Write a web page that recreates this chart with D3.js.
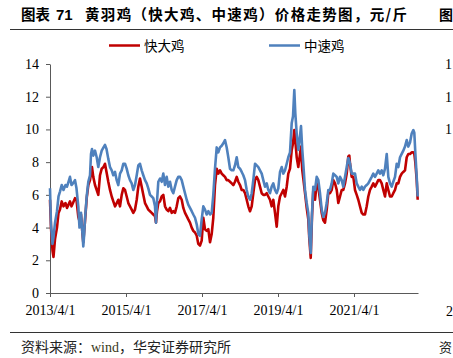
<!DOCTYPE html>
<html><head><meta charset="utf-8">
<script src="https://cdn.jsdelivr.net/npm/d3@7/dist/d3.min.js"></script>
<style>
html,body{margin:0;padding:0;background:#fff;}
svg{display:block;}
</style></head>
<body>
<svg id="chart" width="453" height="358"></svg>
<script>
// Time in decimal years
const dates = [2013.250,2013.276,2013.316,2013.342,2013.382,2013.434,2013.474,2013.513,2013.558,2013.605,2013.658,2013.697,2013.737,2013.776,2013.816,2013.855,2013.908,2013.947,2013.995,2014.026,2014.066,2014.105,2014.126,2014.150,2014.171,2014.216,2014.258,2014.303,2014.329,2014.355,2014.389,2014.434,2014.479,2014.521,2014.566,2014.611,2014.658,2014.697,2014.737,2014.784,2014.829,2014.874,2014.916,2014.961,2015.005,2015.047,2015.092,2015.137,2015.179,2015.224,2015.268,2015.311,2015.355,2015.400,2015.442,2015.487,2015.532,2015.574,2015.618,2015.663,2015.705,2015.750,2015.795,2015.837,2015.882,2015.926,2015.968,2016.013,2016.039,2016.066,2016.100,2016.145,2016.189,2016.232,2016.276,2016.321,2016.363,2016.408,2016.453,2016.495,2016.539,2016.584,2016.626,2016.671,2016.716,2016.758,2016.803,2016.847,2016.889,2016.934,2016.979,2017.021,2017.066,2017.111,2017.153,2017.197,2017.242,2017.284,2017.329,2017.374,2017.416,2017.461,2017.505,2017.547,2017.592,2017.637,2017.679,2017.724,2017.768,2017.811,2017.855,2017.900,2017.942,2017.987,2018.032,2018.074,2018.118,2018.163,2018.205,2018.250,2018.295,2018.337,2018.382,2018.426,2018.468,2018.513,2018.558,2018.600,2018.645,2018.689,2018.732,2018.776,2018.821,2018.863,2018.908,2018.953,2018.995,2019.039,2019.084,2019.126,2019.171,2019.216,2019.258,2019.303,2019.347,2019.389,2019.434,2019.479,2019.521,2019.566,2019.611,2019.645,2019.679,2019.705,2019.742,2019.784,2019.829,2019.855,2019.889,2019.916,2019.961,2020.005,2020.047,2020.074,2020.111,2020.145,2020.179,2020.224,2020.268,2020.311,2020.355,2020.400,2020.442,2020.487,2020.532,2020.574,2020.618,2020.663,2020.705,2020.750,2020.795,2020.837,2020.882,2020.926,2020.968,2021.013,2021.058,2021.100,2021.126,2021.145,2021.189,2021.232,2021.276,2021.321,2021.363,2021.408,2021.453,2021.495,2021.539,2021.584,2021.626,2021.671,2021.716,2021.758,2021.803,2021.847,2021.889,2021.934,2021.979,2022.021,2022.066,2022.111,2022.153,2022.197,2022.242,2022.284,2022.329,2022.374,2022.416,2022.461,2022.505,2022.547,2022.592,2022.637,2022.679,2022.724,2022.768,2022.811,2022.837,2022.863,2022.900,2022.926];

// 快大鸡 (red)
const kuaida = [5.7,4.0,2.6,2.2,3.3,4.0,4.9,5.1,5.6,5.3,5.5,5.2,5.4,5.6,5.3,5.5,5.8,5.7,4.65,4.4,4.8,3.6,3.1,3.8,4.4,5.8,6.6,6.9,7.3,7.7,7.1,6.6,6.3,6.0,7.2,7.6,7.7,7.9,7.4,6.8,6.3,5.9,5.6,5.3,5.5,5.7,5.3,6.0,6.4,6.3,5.9,5.5,5.3,5.1,4.9,5.1,5.7,6.5,7.0,6.5,6.0,5.5,5.3,5.1,5.0,4.9,4.8,4.7,4.3,5.0,5.5,5.6,5.9,6.0,5.3,5.1,5.0,5.2,4.9,5.0,4.9,5.3,5.8,5.9,5.7,5.2,4.9,4.7,4.5,4.3,4.0,3.8,3.7,3.5,3.0,2.9,3.2,4.6,3.9,3.8,3.9,3.1,3.6,4.6,6.6,7.6,7.3,7.5,7.3,7.2,7.1,6.9,6.9,6.8,6.7,6.6,6.8,7.1,6.8,6.6,6.3,6.3,6.1,5.7,5.3,5.0,5.3,6.1,6.9,7.1,6.9,6.5,6.1,6.0,6.0,6.1,5.9,5.7,5.3,5.7,4.9,4.05,5.3,5.9,6.1,6.3,5.9,6.5,7.3,7.6,8.75,9.15,9.96,9.35,8.3,7.7,8.5,8.95,7.5,7.0,6.1,5.2,4.5,3.3,2.15,4.7,6.3,5.7,6.7,6.5,5.7,4.9,4.45,4.3,5.1,6.1,6.1,6.3,6.9,6.7,6.3,5.5,5.9,6.3,6.3,6.7,7.3,8.35,8.4,7.9,7.1,7.1,6.3,6.0,5.7,5.3,4.9,4.8,4.8,5.3,5.9,6.3,6.5,6.7,6.5,6.7,6.9,6.9,6.7,6.3,5.9,6.7,6.3,5.9,5.9,6.1,6.3,6.7,6.7,7.1,7.3,7.4,7.5,8.3,8.5,8.5,8.6,8.6,8.5,8.0,6.9,5.7];

// 中速鸡 (blue)
const zhongsu = [6.4,4.2,3.0,3.4,4.3,5.0,5.9,6.2,6.6,6.3,6.6,6.5,6.8,7.1,6.6,6.7,6.9,6.4,5.3,4.0,4.9,3.6,2.85,3.6,4.5,5.9,6.8,7.2,8.5,8.8,8.4,8.7,8.3,7.7,8.3,8.7,8.9,9.05,8.8,8.2,7.7,7.5,7.2,7.4,6.9,6.6,7.3,7.5,7.9,7.9,7.6,7.2,6.9,6.7,6.3,6.6,7.2,7.8,7.9,7.5,7.2,6.9,6.7,6.4,6.0,5.9,5.8,5.3,4.3,5.6,6.8,7.0,6.8,7.3,6.6,7.1,6.5,6.8,6.3,6.1,6.5,6.9,7.1,7.1,6.9,6.5,6.1,5.7,5.4,5.2,5.0,4.8,4.6,4.2,3.6,3.5,4.5,5.3,5.1,4.8,5.0,4.8,4.9,6.0,7.6,8.9,8.6,8.9,9.0,9.15,9.35,8.9,8.3,7.6,7.5,7.5,7.8,8.3,7.7,7.6,7.4,7.2,6.9,6.3,5.9,5.7,6.1,6.9,7.9,7.8,7.7,7.5,7.3,6.9,6.5,6.7,6.3,6.1,6.5,6.7,6.3,6.1,6.4,7.4,7.7,7.3,7.5,7.9,8.3,8.6,10.4,10.8,12.4,11.0,9.75,8.75,9.6,10.2,8.75,7.9,6.3,5.5,4.9,3.5,2.45,4.9,6.5,6.3,7.1,6.9,6.1,5.1,4.65,4.9,5.5,6.3,6.3,6.7,7.3,7.2,7.1,6.7,7.1,6.9,6.5,7.1,7.7,8.25,8.1,7.9,7.3,7.3,7.3,6.7,6.5,6.3,6.5,6.3,6.5,6.6,6.7,6.9,7.1,7.3,7.1,7.3,7.5,7.3,7.5,7.2,7.6,8.5,7.1,6.7,6.5,6.8,7.1,7.9,7.7,8.3,8.5,8.7,8.95,9.35,8.95,9.2,9.75,9.96,9.8,8.6,7.1,5.9];

const seriesNames = ["快大鸡", "中速鸡"];
const seriesColors = ["#C00000", "#4F81BD"];
const yTicks = [0, 2, 4, 6, 8, 10, 12, 14];
const xTickValues = [2013.25, 2015.25, 2017.25, 2019.25, 2021.25];
const xTickLabels = ["2013/4/1", "2015/4/1", "2017/4/1", "2019/4/1", "2021/4/1"];
const titleText = "黄羽鸡（快大鸡、中速鸡）价格走势图，元/斤";
const sourceParts = [["资料来源：", "cjk"], ["wind", "serif"], ["，华安证券研究所", "cjk"]];
// fragments of the neighbouring chart visible at the right edge
const edgeTickValues = [14, 12, 10];
const edgeTickGlyphs = ["1", "1", "1"];

const svg = d3.select("#chart");
const x = d3.scaleLinear().domain([2013.25, 2022.934]).range([50, 418]);
const y = d3.scaleLinear().domain([0, 14]).range([293, 64]);

// Title
svg.append("text").attr("x", 21).attr("y", 20)
  .attr("font-family", "'Noto Sans CJK SC', sans-serif").attr("font-weight", "bold")
  .attr("font-size", 14.5).attr("fill", "#000").text("图表");
svg.append("text").attr("x", 56).attr("y", 20)
  .attr("font-family", "Arial, 'Liberation Sans', sans-serif").attr("font-weight", "bold")
  .attr("font-size", 15).attr("fill", "#000").text("71");
svg.append("text").attr("x", 85).attr("y", 20)
  .attr("font-family", "'Noto Sans CJK SC', sans-serif").attr("font-weight", "bold")
  .attr("font-size", 14.5).attr("fill", "#000")
  .attr("textLength", 322).attr("lengthAdjust", "spacing").text(titleText);
svg.append("text").attr("x", 439).attr("y", 20)
  .attr("font-family", "'Noto Sans CJK SC', sans-serif").attr("font-weight", "bold")
  .attr("font-size", 14).attr("fill", "#000").text("图");

svg.append("line").attr("x1", 10).attr("x2", 453).attr("y1", 29.5).attr("y2", 29.5)
  .attr("stroke", "#333").attr("stroke-width", 1);

// Legend
const legX = [109, 269];
seriesNames.forEach((n, i) => {
  svg.append("line").attr("x1", legX[i]).attr("x2", legX[i] + 31)
    .attr("y1", 45.5).attr("y2", 45.5)
    .attr("stroke", seriesColors[i]).attr("stroke-width", 2.5);
  svg.append("text").attr("x", legX[i] + 35).attr("y", 50.5)
    .attr("font-family", "'Noto Sans CJK SC', sans-serif")
    .attr("font-size", 13.5).attr("fill", "#000").text(n);
});

// Axes
const yAxis = svg.append("g").attr("transform", "translate(50,0)")
  .call(d3.axisLeft(y).tickValues(yTicks).tickSize(4).tickSizeOuter(0).tickPadding(7));
const xAxis = svg.append("g").attr("transform", "translate(0,293)")
  .call(d3.axisBottom(x).tickValues(xTickValues).tickFormat((d, i) => xTickLabels[i])
    .tickSize(4).tickSizeOuter(0).tickPadding(8));
[yAxis, xAxis].forEach(g => {
  g.selectAll("path.domain").attr("stroke", "#595959").attr("stroke-width", 1);
  g.selectAll(".tick line").attr("stroke", "#595959");
  g.selectAll("text").attr("font-family", "'Liberation Serif', 'Times New Roman', serif")
    .attr("font-size", 14).attr("fill", "#000");
});

// Lines
const pts = dates.map((d, i) => ({d, r: kuaida[i], b: zhongsu[i]}));
const lineR = d3.line().x(p => x(p.d)).y(p => y(p.r));
const lineB = d3.line().x(p => x(p.d)).y(p => y(p.b));
svg.append("path").datum(pts).attr("d", lineR).attr("fill", "none")
  .attr("stroke", seriesColors[0]).attr("stroke-width", 2.6).attr("stroke-linejoin", "round");
svg.append("path").datum(pts).attr("d", lineB).attr("fill", "none")
  .attr("stroke", seriesColors[1]).attr("stroke-width", 2.6).attr("stroke-linejoin", "round");

// neighbour chart fragments
const nb = svg.append("g").attr("font-family", "'Liberation Serif', serif").attr("font-size", 14).attr("fill", "#000");
edgeTickValues.forEach((v, i) => nb.append("text").attr("x", 445).attr("y", y(v) + 5).text(edgeTickGlyphs[i]));
nb.append("text").attr("x", 446).attr("y", 316).text("2");

// Footer
svg.append("line").attr("x1", 10).attr("x2", 453).attr("y1", 332.5).attr("y2", 332.5)
  .attr("stroke", "#333").attr("stroke-width", 1);
const src = svg.append("text").attr("x", 21).attr("y", 352)
  .attr("font-size", 14).attr("fill", "#222");
sourceParts.forEach(([t, f]) => {
  src.append("tspan")
    .attr("font-family", f === "serif" ? "'Liberation Serif', serif" : "'Noto Sans CJK SC', sans-serif")
    .attr("fill", f === "serif" ? "#3a3a1a" : "#222")
    .text(t);
});
svg.append("text").attr("x", 439).attr("y", 352)
  .attr("font-family", "'Noto Sans CJK SC', sans-serif")
  .attr("font-size", 13).attr("fill", "#222").text("资");
</script>
</body></html>
